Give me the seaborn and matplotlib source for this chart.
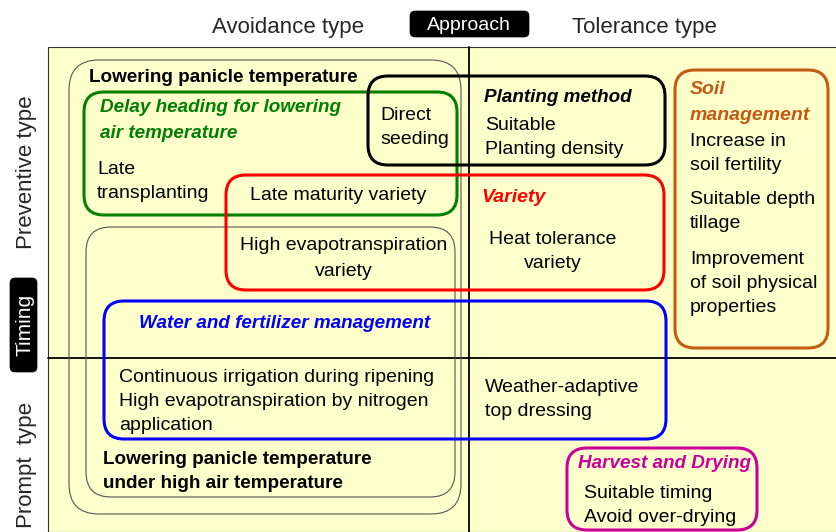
import matplotlib.pyplot as plt
import seaborn as sns
from matplotlib.patches import FancyBboxPatch, Rectangle

sns.set_theme(style='white')
plt.rcParams['font.family'] = ['Liberation Sans', 'DejaVu Sans']

# texts of the diagram
header_left = 'Avoidance type'
header_mid = 'Approach'
header_right = 'Tolerance type'
side_top = 'Preventive type'
side_mid = 'Timing'
side_bottom = 'Prompt  type'

lowering_title = ['Lowering panicle temperature']
delay_title = ['Delay heading for lowering', 'air temperature']
late_trans = ['Late', 'transplanting']
direct_seed = ['Direct', 'seeding']
planting_title = ['Planting method']
planting_items = ['Suitable', 'Planting density']
late_maturity = ['Late maturity variety']
variety_title = ['Variety']
high_evap = ['High evapotranspiration', 'variety']
heat_tol = ['Heat tolerance', 'variety']
soil_title = ['Soil', 'management']
soil_1 = ['Increase in', 'soil fertility']
soil_2 = ['Suitable depth', 'tillage']
soil_3 = ['Improvement', 'of soil physical', 'properties']
water_title = ['Water and fertilizer management']
water_items = ['Continuous irrigation during ripening',
               'High evapotranspiration by nitrogen',
               'application']
weather = ['Weather-adaptive', 'top dressing']
lowering_prompt = ['Lowering panicle temperature', 'under high air temperature']
harvest_title = ['Harvest and Drying']
harvest_items = ['Suitable timing', 'Avoid over-drying']

W, H = 837, 532
fig = plt.figure(figsize=(W / 100, H / 100), dpi=100)
ax = fig.add_axes([0, 0, 1, 1])
ax.set_xlim(0, W)
ax.set_ylim(H, 0)
ax.axis('off')

FS = 14
FT = 13.6  # bold titles
LINE = 24


def box(x0, y0, x1, y1, color, lw, r=20, fc='none', z=2):
    p = FancyBboxPatch((x0, y0), x1 - x0, y1 - y0,
                       boxstyle=f'round,pad=0,rounding_size={r}',
                       ec=color, fc=fc, lw=lw, zorder=z)
    ax.add_patch(p)


def lines(txt, x, y, color='black', ha='left', weight='normal', style='normal', fs=FS, pitch=LINE):
    for i, t in enumerate(txt):
        ax.text(x, y + 2 + i * pitch, t, ha=ha, va='center', color=color,
                fontsize=fs, fontweight=weight, fontstyle=style, zorder=5)


# panel
ax.add_patch(Rectangle((48, 47), W - 48, H - 47, fc='#FFFFCC', ec='#333333', lw=0.8, zorder=0))
ax.plot([469, 469], [47, H], color='black', lw=1.3, zorder=1)
ax.plot([48, W], [358, 358], color='black', lw=1.3, zorder=1)

# header
ax.text(288, 27, header_left, ha='center', va='center', fontsize=16)
box(410, 11, 529, 37, 'black', 0.5, r=5, fc='black')
ax.text(469, 26, header_mid, ha='center', va='center', fontsize=14, color='white', zorder=5)
ax.text(644, 27, header_right, ha='center', va='center', fontsize=16)

# side labels
ax.text(27, 172, side_top, ha='center', va='center', rotation=90, fontsize=16)
box(10, 278, 37, 372, 'black', 0.5, r=5, fc='black')
ax.text(25, 325, side_mid, ha='center', va='center', rotation=90, fontsize=15, color='white', zorder=5)
ax.text(27, 465, side_bottom, ha='center', va='center', rotation=90, fontsize=16)

# gray grouping boxes
box(69, 60, 461, 514, '#555555', 0.8, r=30)
box(86, 227, 455, 497, '#555555', 0.8, r=25)

# coloured boxes
box(84, 92, 457, 215, '#008000', 2.2)
box(368, 76, 665, 165, 'black', 2.2)
box(226, 175, 664, 290, '#FF0000', 2.2)
box(104, 301, 666, 439, '#0000FF', 2.2)
box(675, 70, 828, 348, '#C55A11', 2.2)
box(567, 448, 757, 530, '#CC0099', 2.2)

# texts
lines(lowering_title, 89, 75, weight='bold', fs=FT)
lines(delay_title, 100, 106, color='#008000', weight='bold', style='italic', fs=FT, pitch=25)
lines(late_trans, 97, 167)
lines(direct_seed, 380, 114)
lines(planting_title, 484, 95, weight='bold', style='italic', fs=FT)
lines(planting_items, 485, 124)
lines(late_maturity, 250, 194)
lines(variety_title, 481, 196, color='#FF0000', weight='bold', style='italic')
lines(high_evap, 344, 244, ha='center', pitch=25)
lines(heat_tol, 553, 237, ha='center')
lines(soil_title, 690, 88, color='#C55A11', weight='bold', style='italic', pitch=25)
lines(soil_1, 690, 139)
lines(soil_2, 690, 198)
lines(soil_3, 690, 257)
lines(water_title, 285, 321, ha='center', color='#0000FF', weight='bold', style='italic', fs=FT)
lines(water_items, 119, 375)
lines(weather, 485, 385)
lines(lowering_prompt, 103, 457, weight='bold', fs=FT)
lines(harvest_title, 578, 462, color='#CC0099', weight='bold', style='italic', fs=FT)
lines(harvest_items, 584, 491)

fig.savefig('out.png', dpi=100, facecolor='white')
